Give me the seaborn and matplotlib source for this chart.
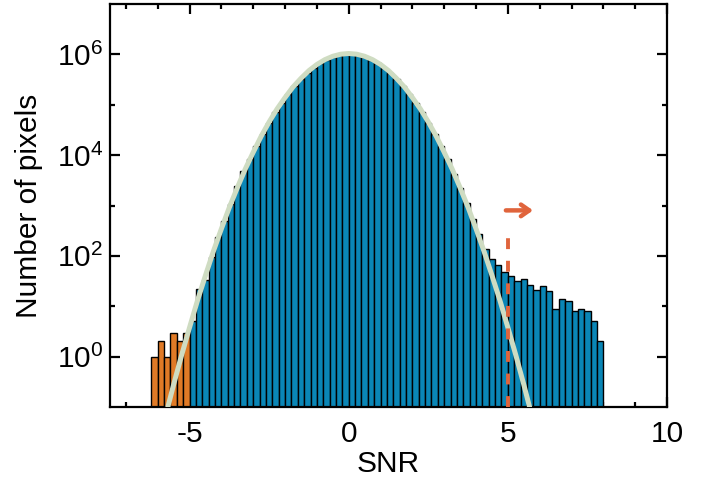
import numpy as np
import pandas as pd
import matplotlib
matplotlib.use("Agg")
import matplotlib.pyplot as plt
from matplotlib.ticker import FixedLocator, NullFormatter
import seaborn as sns

# ---- data ----
bin_width = 0.2
# negative-SNR tail (orange), bin centres and counts
neg_centers = [-6.1, -5.9, -5.7, -5.5, -5.3, -5.1]
neg_counts = [1, 2, 1, 3, 2, 3]
# main histogram (blue), bins from -5.0 to 8.0
pos_centers = [round(v, 1) for v in np.arange(-4.9, 8.0, 0.2)]
pos_counts = [
    5, 22, 33, 96, 232, 500, 1090,
    2450, 4900, 8300, 15000, 26100, 43900, 71000, 110000, 164000,
    236000, 325000, 430000, 546000, 667000, 783000, 882000, 956000, 995000,
    995000, 956000, 882000, 783000, 667000, 546000, 430000, 325000, 236000,
    164000, 110000, 71000, 43900, 26100, 14900, 8200, 4300, 2190,
    1100, 540, 274, 135, 85, 66, 47, 39, 31, 35, 27, 21, 25, 20, 9, 14,
    13, 8, 9, 8, 5, 2,
]
# Gaussian fit curve, read at 0.25 SNR steps
curve_x = [-6.0, -5.75, -5.5, -5.25, -5.0, -4.75, -4.5, -4.25, -4.0, -3.75,
           -3.5, -3.25, -3.0, -2.75, -2.5, -2.25, -2.0, -1.75, -1.5, -1.25,
           -1.0, -0.75, -0.5, -0.25, 0.0, 0.25, 0.5, 0.75, 1.0, 1.25, 1.5,
           1.75, 2.0, 2.25, 2.5, 2.75, 3.0, 3.25, 3.5, 3.75, 4.0, 4.25, 4.5,
           4.75, 5.0, 5.25, 5.5, 5.75, 6.0]
curve_y = [0.016, 0.068, 0.28, 1.07, 3.8, 13.1, 41, 124, 345, 919,
           2250, 5290, 11400, 23700, 45600, 82800, 139000, 225000, 334000, 476000,
           630000, 785000, 917000, 1008000, 1040000, 1008000, 917000, 785000,
           630000, 476000, 334000,
           225000, 139000, 82800, 45600, 23700, 11400, 5290, 2250, 919, 345, 124, 41,
           13.1, 3.8, 1.07, 0.28, 0.068, 0.016]
threshold = 5.0
threshold_top = 320
arrow_x = [4.85, 5.88]
arrow_y = 800

x_major = [-5, 0, 5, 10]
x_minor = [-7, -6, -4, -3, -2, -1, 1, 2, 3, 4, 6, 7, 8, 9]
y_major = [1e0, 1e2, 1e4, 1e6]
y_major_labels = [r"$10^0$", r"$10^2$", r"$10^4$", r"$10^6$"]
y_minor = [1e1, 1e3, 1e5]

BLUE = "#0a86b6"
ORANGE = "#e07a26"
CURVE = "#cfdcc2"
RED = "#e0643c"

sns.set_style("white")
plt.rcParams["font.family"] = ["Liberation Sans", "DejaVu Sans"]
plt.rcParams["mathtext.fontset"] = "custom"
plt.rcParams["mathtext.rm"] = "Liberation Sans"
plt.rcParams["mathtext.it"] = "Liberation Sans"
plt.rcParams["text.color"] = "black"
plt.rcParams["axes.labelcolor"] = "black"
plt.rcParams["xtick.color"] = "black"
plt.rcParams["ytick.color"] = "black"

fig = plt.figure(figsize=(7.06, 4.82), dpi=100)
ax = fig.add_axes([110 / 706, 75 / 482, 557 / 706, 403 / 482])
ax.set_yscale("log")

neg_edges = [round(neg_centers[0] - bin_width / 2 + i * bin_width, 2)
             for i in range(len(neg_centers) + 1)]
pos_edges = [round(pos_centers[0] - bin_width / 2 + i * bin_width, 2)
             for i in range(len(pos_centers) + 1)]

df_neg = pd.DataFrame({"snr": neg_centers, "n": neg_counts})
df_pos = pd.DataFrame({"snr": pos_centers, "n": pos_counts})

sns.histplot(data=df_neg, x="snr", weights="n", bins=neg_edges, color=ORANGE,
             edgecolor="black", linewidth=1.0, alpha=1, ax=ax)
sns.histplot(data=df_pos, x="snr", weights="n", bins=pos_edges, color=BLUE,
             edgecolor="black", linewidth=1.0, alpha=1, ax=ax)

df_curve = pd.DataFrame({"x": curve_x, "y": curve_y})
sns.lineplot(data=df_curve, x="x", y="y", color=CURVE, linewidth=3.6, ax=ax,
             zorder=5)

ax.vlines(threshold, 0.1, threshold_top, colors=RED, linestyles=(0, (2.8, 3.0)),
          linewidth=2.8, zorder=6)
ax.annotate("", xy=(arrow_x[1], arrow_y), xytext=(arrow_x[0], arrow_y),
            arrowprops=dict(arrowstyle="->,head_length=0.6,head_width=0.42",
                            color=RED, lw=3.2), zorder=7)

ax.set_xlim(-7.5, 10)
ax.set_ylim(0.1, 1e7)

ax.xaxis.set_major_locator(FixedLocator(x_major))
ax.xaxis.set_minor_locator(FixedLocator(x_minor))
ax.set_xticklabels(["-5", "0", "5", "10"])
ax.yaxis.set_major_locator(FixedLocator(y_major))
ax.set_yticklabels(y_major_labels)
ax.yaxis.set_minor_locator(FixedLocator(y_minor))
ax.yaxis.set_minor_formatter(NullFormatter())

ax.tick_params(which="both", direction="in", top=True, right=True,
               bottom=True, left=True,
               width=1.6, labelsize=21.5, color="black", labelcolor="black")
ax.tick_params(which="major", length=7.5)
ax.tick_params(which="minor", length=3.6)
ax.tick_params(axis="x", which="major", pad=9)
ax.tick_params(axis="y", which="major", pad=5)

for s in ax.spines.values():
    s.set_linewidth(1.6)
    s.set_color("black")
    s.set_visible(True)

ax.set_xlabel("SNR", fontsize=21.5, labelpad=2, color="black")
ax.set_ylabel("Number of pixels", fontsize=21.5, labelpad=10, color="black")

fig.savefig("out.png", dpi=100)
